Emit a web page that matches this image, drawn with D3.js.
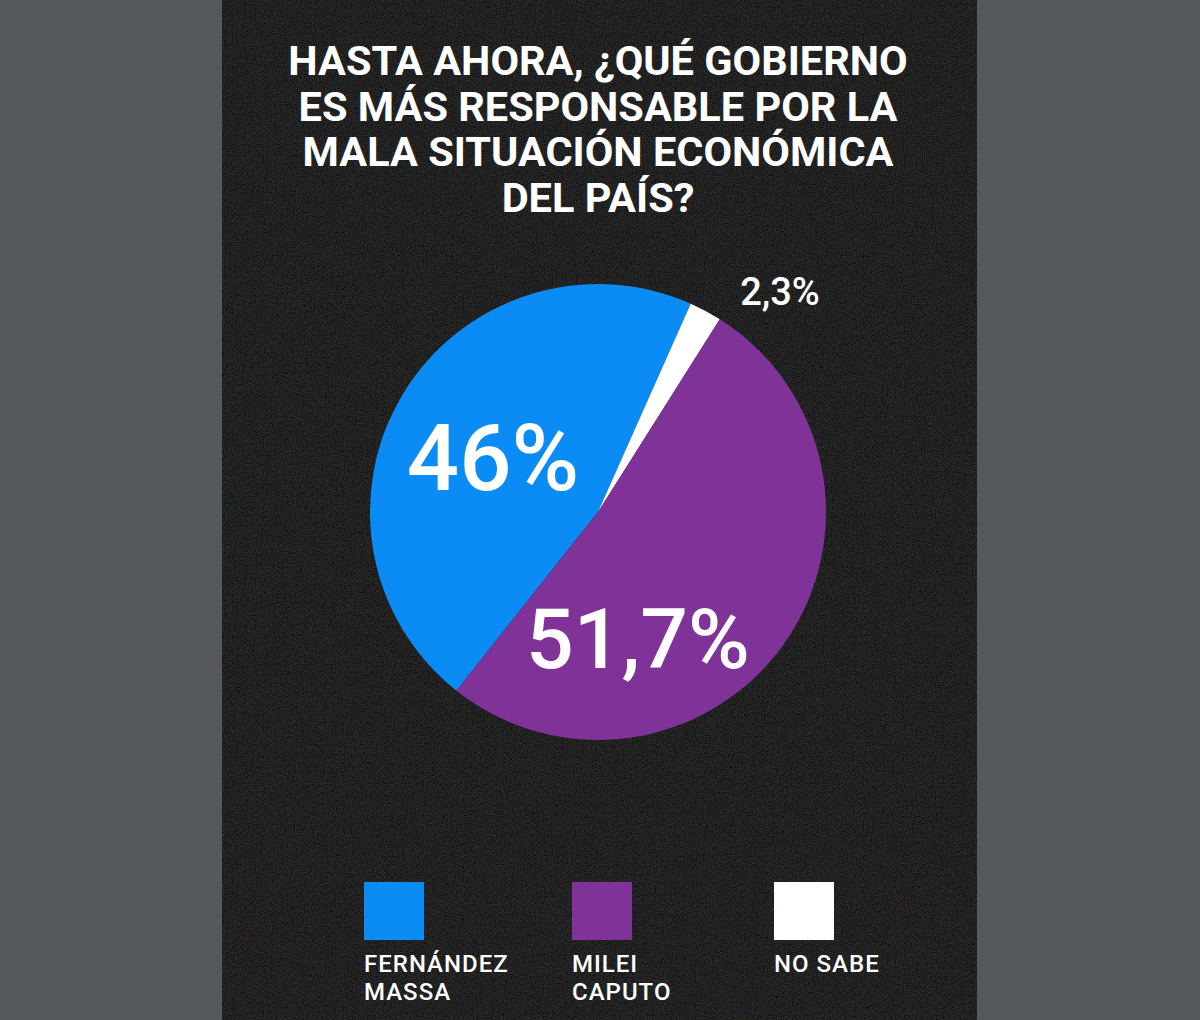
<!DOCTYPE html>
<meta charset="utf-8">
<title>¿Qué gobierno es más responsable?</title>
<script src="https://d3js.org/d3.v7.min.js"></script>
<style>
body {margin: 0; background: #54585b;}
svg {display: block;}
</style>
<body>
<div id="chart"></div>
<script>
// data
var categories = ["FERNÁNDEZ MASSA", "MILEI CAPUTO", "NO SABE"];
var values = [46, 51.7, 2.3];
var valueLabels = ["46%", "51,7%", "2,3%"];
var colors = ["#0b8cf4", "#7f3297", "#ffffff"];
var titleLines = ["HASTA AHORA, ¿QUÉ GOBIERNO", "ES MÁS RESPONSABLE POR LA", "MALA SITUACIÓN ECONÓMICA", "DEL PAÍS?"];

// layout
var W = 1200, H = 1020;
var panel = {x: 222, w: 755};
var cx = 598, cy = 512, radius = 228;
// label placement relative to pie centre: dx, dy (baseline), font-size
var labelLayout = [
  {dx: -105, dy: -22, size: 92},
  {dx: 40, dy: 156, size: 84},
  {dx: 182, dy: -207, size: 38}
];

var svg = d3.select("#chart").append("svg")
  .attr("width", W)
  .attr("height", H);

// grainy texture for the dark panel
var defs = svg.append("defs");
var f = defs.append("filter").attr("id", "grain")
  .attr("x", 0).attr("y", 0).attr("width", "100%").attr("height", "100%");
f.append("feTurbulence")
  .attr("type", "fractalNoise")
  .attr("baseFrequency", 0.9)
  .attr("numOctaves", 2)
  .attr("seed", 3);
f.append("feColorMatrix")
  .attr("type", "matrix")
  .attr("values", "2.6 0 0 0 -1.0  0 2.6 0 0 -1.0  0 0 2.6 0 -1.0  0 0 0 0 0.14");

svg.append("rect")
  .attr("x", panel.x).attr("y", 0)
  .attr("width", panel.w).attr("height", H)
  .attr("fill", "#111111");
svg.append("rect")
  .attr("x", panel.x).attr("y", 0)
  .attr("width", panel.w).attr("height", H)
  .attr("filter", "url(#grain)");

// title
svg.append("g")
  .selectAll("text")
  .data(titleLines)
  .join("text")
    .attr("x", cx)
    .attr("y", function(d, i) { return 75 + i * 45.5; })
    .attr("text-anchor", "middle")
    .attr("fill", "#fff")
    .style("font-family", "Roboto, 'Open Sans', sans-serif")
    .style("font-weight", 700)
    .style("font-size", "41.5px")
    .text(function(d) { return d; });

// pie: drawn clockwise as blue, white, purple
var order = [0, 2, 1];
var startDeg = -141.6;
var pie = d3.pie()
  .sort(null)
  .value(function(i) { return values[i]; })
  .startAngle(startDeg * Math.PI / 180)
  .endAngle((startDeg + 360) * Math.PI / 180);
var arc = d3.arc().innerRadius(0).outerRadius(radius);

var g = svg.append("g").attr("transform", "translate(" + cx + "," + cy + ")");
g.selectAll("path")
  .data(pie(order))
  .join("path")
    .attr("d", arc)
    .attr("fill", function(d) { return colors[d.data]; });

// value labels
g.selectAll("text.val")
  .data(values)
  .join("text")
    .attr("class", "val")
    .attr("x", function(d, i) { return labelLayout[i].dx; })
    .attr("y", function(d, i) { return labelLayout[i].dy; })
    .attr("text-anchor", "middle")
    .attr("fill", "#fff")
    .style("font-family", "Roboto, sans-serif")
    .style("font-weight", 500)
    .style("font-size", function(d, i) { return labelLayout[i].size + "px"; })
    .text(function(d, i) { return valueLabels[i]; });

// legend
var legendX = [364, 572, 774];
var leg = svg.append("g").selectAll("g")
  .data(categories)
  .join("g")
    .attr("transform", function(d, i) { return "translate(" + legendX[i] + ",882)"; });
leg.append("rect")
  .attr("width", 60).attr("height", 58)
  .attr("fill", function(d, i) { return colors[i]; });
leg.append("text")
  .attr("fill", "#fff")
  .style("font-family", "Roboto, sans-serif")
  .style("font-weight", 500)
  .style("font-size", "24px")
  .style("letter-spacing", "1px")
  .selectAll("tspan")
  .data(function(d) { return d === "NO SABE" ? [d] : d.split(" "); })
  .join("tspan")
    .attr("x", 0)
    .attr("y", function(d, i) { return 90 + i * 28; })
    .text(function(d) { return d; });
</script>
</body>
